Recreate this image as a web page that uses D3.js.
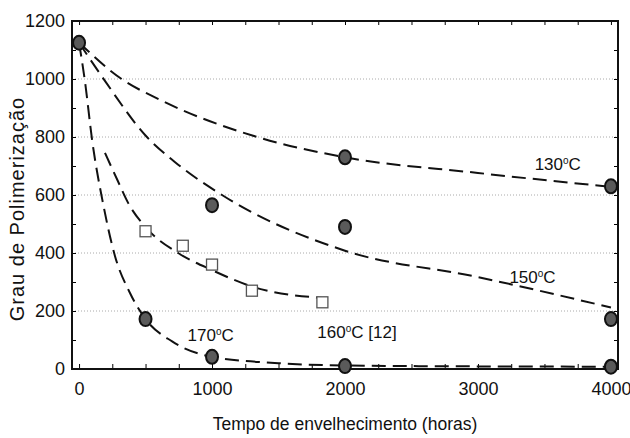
<!DOCTYPE html>
<html>
<head>
<meta charset="utf-8">
<script src="https://cdn.jsdelivr.net/npm/d3@7"></script>
<style>
  body { margin: 0; background: #fff; }
  text { font-family: "Liberation Sans", Arial, sans-serif; fill: #111; }
  .narrow { font-family: "Liberation Sans Narrow", "Arial Narrow", sans-serif; }
</style>
</head>
<body>
<div id="chart"></div>
<script>
// Tick labels
const xTicks = [0, 1000, 2000, 3000, 4000];
const yTicks = [0, 200, 400, 600, 800, 1000, 1200];

// Measured points (circles): [horas, GP]
const circlePoints = [
    [0, 1125],
    [2000, 730], [4000, 630],            // 130 C
    [1000, 565], [2000, 490], [4000, 172], // 150 C
    [500, 172], [1000, 42], [2000, 10], [4000, 8] // 170 C
];

// Points from ref. [12] (squares), 160 C
const squarePoints = [[500, 475], [780, 425], [1000, 360], [1300, 270], [1830, 230]];

// Fitted curves (dashed)
const curve130 = [[0, 1125], [320, 1000], [610, 928], [1340, 800], [2000, 730], [3000, 676], [4000, 628]];
const curve150 = [[0, 1125], [200, 990], [500, 805], [720, 714], [1075, 600], [2000, 408], [3000, 317], [4000, 212]];
const curve160 = [[195, 745], [290, 650], [370, 572], [520, 480], [745, 400], [1000, 341], [1310, 283], [1830, 245]];
const curve170 = [[0, 1125], [45, 990], [98, 790], [180, 572], [270, 390], [383, 262], [500, 172], [700, 95], [1000, 42], [1500, 20], [2000, 12], [3000, 9], [4000, 8]];

const curveLabels = [
    {text: "130", x: 3600, y: 685},
    {text: "150", x: 3410, y: 297},
    {text: "170", x: 990, y: 95},
    {text: "160", x: 2090, y: 107, suffix: " [12]"}
];

const margin = {top: 21, right: 12, bottom: 69, left: 72};
const width = 630 - margin.left - margin.right;
const height = 438 - margin.top - margin.bottom;

const svg = d3.select("#chart")
    .append("svg")
    .attr("width", width + margin.left + margin.right)
    .attr("height", height + margin.top + margin.bottom)
    .append("g")
    .attr("transform", `translate(${margin.left},${margin.top})`);

const xScale = d3.scaleLinear()
    .domain([-53, 4053])
    .range([0, width]);

const yScale = d3.scaleLinear()
    .domain([0, 1200])
    .range([height, 0]);

// dotted grid lines
svg.selectAll(".grid")
    .data(yTicks.filter(d => d > 0 && d < 1200))
    .enter().append("line")
    .attr("x1", 0)
    .attr("x2", width)
    .attr("y1", d => yScale(d))
    .attr("y2", d => yScale(d))
    .style("stroke", "#aaa")
    .style("stroke-width", 1)
    .style("stroke-dasharray", "1,2");

// minor ticks (inside), all four sides
const xMinor = d3.range(0, 4001, 250);
const yMinor = d3.range(0, 1201, 100);

svg.append("g")
    .attr("transform", `translate(0,${height})`)
    .call(d3.axisBottom(xScale).tickValues(xMinor).tickSize(-5).tickFormat(""))
    .call(g => g.select(".domain").remove());
svg.append("g")
    .call(d3.axisTop(xScale).tickValues(xMinor).tickSize(-4).tickFormat(""))
    .call(g => g.select(".domain").remove());
svg.append("g")
    .call(d3.axisLeft(yScale).tickValues(yMinor).tickSize(-4).tickFormat(""))
    .call(g => g.select(".domain").remove());
svg.append("g")
    .attr("transform", `translate(${width},0)`)
    .call(d3.axisRight(yScale).tickValues(yMinor).tickSize(-4).tickFormat(""))
    .call(g => g.select(".domain").remove());

// tick labels
svg.append("g")
    .attr("transform", `translate(0,${height})`)
    .call(d3.axisBottom(xScale).tickValues(xTicks).tickSize(0).tickPadding(13).tickFormat(d3.format("d")))
    .call(g => g.select(".domain").remove())
    .selectAll("text")
    .attr("class", "narrow")
    .style("font-size", "18px");
svg.append("g")
    .call(d3.axisLeft(yScale).tickValues(yTicks).tickSize(0).tickPadding(7).tickFormat(d3.format("d")))
    .call(g => g.select(".domain").remove())
    .selectAll("text")
    .attr("class", "narrow")
    .style("font-size", "18px");

// frame
svg.append("rect")
    .attr("width", width)
    .attr("height", height)
    .style("fill", "none")
    .style("stroke", "#111")
    .style("stroke-width", 2);

// dashed curves
const line = d3.line()
    .x(d => xScale(d[0]))
    .y(d => yScale(d[1]))
    .curve(d3.curveMonotoneX);

svg.selectAll(".fit")
    .data([curve130, curve150, curve160, curve170])
    .enter().append("path")
    .attr("d", line)
    .style("fill", "none")
    .style("stroke", "#111")
    .style("stroke-width", 2)
    .style("stroke-dasharray", "14,7");

// squares
svg.selectAll(".sq")
    .data(squarePoints)
    .enter().append("rect")
    .attr("x", d => xScale(d[0]) - 5.5)
    .attr("y", d => yScale(d[1]) - 5.5)
    .attr("width", 11)
    .attr("height", 11)
    .style("fill", "#fff")
    .style("stroke", "#555")
    .style("stroke-width", 1.3);

// circles
svg.selectAll(".pt")
    .data(circlePoints)
    .enter().append("ellipse")
    .attr("cx", d => xScale(d[0]))
    .attr("cy", d => yScale(d[1]))
    .attr("rx", 6)
    .attr("ry", 7)
    .style("fill", "#5a5a5a")
    .style("stroke", "#111")
    .style("stroke-width", 2);

// curve labels
const lbl = svg.selectAll(".lbl")
    .data(curveLabels)
    .enter().append("text")
    .attr("class", "narrow")
    .attr("x", d => xScale(d.x))
    .attr("y", d => yScale(d.y))
    .style("font-size", "17px")
    .style("text-anchor", "middle");
lbl.append("tspan").text(d => d.text);
lbl.append("tspan").attr("dy", -6).style("font-size", "10px").text("o");
lbl.append("tspan").attr("dy", 6).text(d => "C" + (d.suffix || ""));

// axis titles
svg.append("text")
    .attr("x", xScale(2000))
    .attr("y", height + 61)
    .style("text-anchor", "middle")
    .style("font-size", "17.5px")
    .text("Tempo de envelhecimento (horas)");

svg.append("text")
    .attr("transform", "rotate(-90)")
    .attr("x", -188)
    .attr("y", -margin.left + 24)
    .style("text-anchor", "middle")
    .style("font-size", "20px")
    .style("letter-spacing", "1px")
    .text("Grau de Polimerização");
</script>
</body>
</html>
